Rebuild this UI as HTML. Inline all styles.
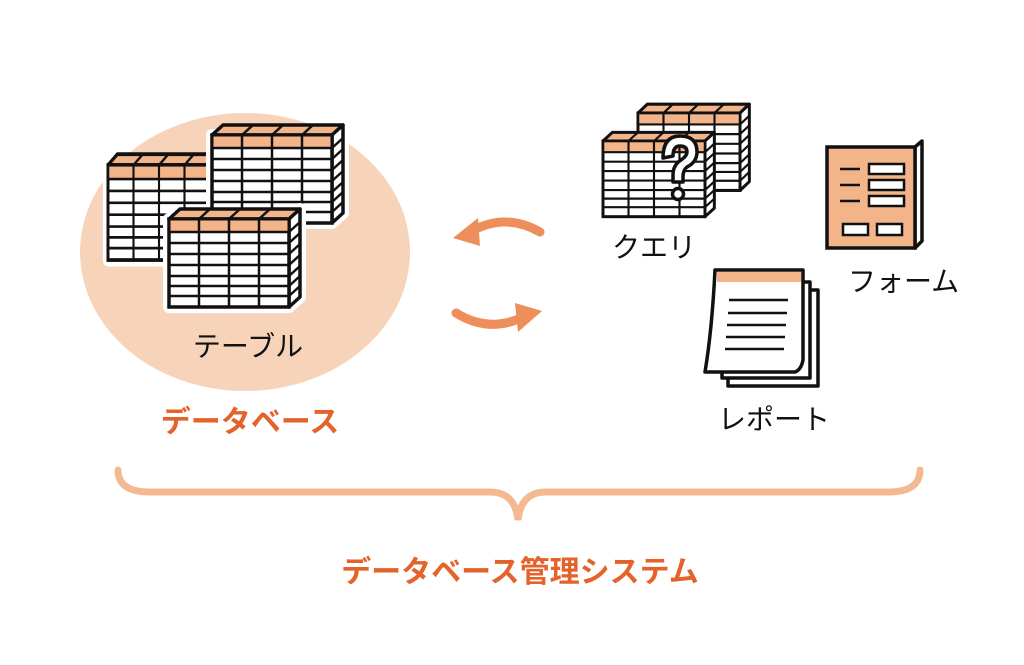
<!DOCTYPE html><html><head><meta charset="utf-8"><style>
body{margin:0;background:#fff}svg{display:block}
text{font-family:"Liberation Sans","Noto Sans CJK JP",sans-serif}
</style></head><body>
<svg width="1024" height="665" viewBox="0 0 1024 665" xmlns="http://www.w3.org/2000/svg">
<defs>
<g id="tbl">
<polygon points="0,0 120,0 131,-10 11,-10" fill="#f3b48a" stroke="#111" stroke-width="3.5" stroke-linejoin="round"/>
<polygon points="120,0 131,-10 131,78 120,88" fill="#fff" stroke="#111" stroke-width="3.5" stroke-linejoin="round"/>
<rect x="0" y="0" width="120" height="88" fill="#fff" stroke="#111" stroke-width="3.5"/>
<rect x="1.5" y="1.5" width="117" height="11" fill="#f3b48a"/>
<g stroke="#111" stroke-width="2.5">
<line x1="0" y1="13" x2="120" y2="13"/>
<line x1="0" y1="24" x2="120" y2="24"/><line x1="0" y1="35" x2="120" y2="35"/>
<line x1="0" y1="46" x2="120" y2="46"/><line x1="0" y1="57" x2="120" y2="57"/>
<line x1="0" y1="67" x2="120" y2="67"/><line x1="0" y1="77" x2="120" y2="77"/>
<line x1="30" y1="0" x2="30" y2="88"/><line x1="60" y1="0" x2="60" y2="88"/><line x1="90" y1="0" x2="90" y2="88"/>
<line x1="41" y1="-10" x2="30" y2="0"/><line x1="71" y1="-10" x2="60" y2="0"/><line x1="101" y1="-10" x2="90" y2="0"/>
<line x1="120" y1="13" x2="131" y2="3"/><line x1="120" y1="24" x2="131" y2="14"/><line x1="120" y1="35" x2="131" y2="25"/>
<line x1="120" y1="46" x2="131" y2="36"/><line x1="120" y1="57" x2="131" y2="47"/><line x1="120" y1="67" x2="131" y2="57"/><line x1="120" y1="77" x2="131" y2="67"/>
</g>
</g>
<g id="tblw">
<polygon points="0,0 120,0 131,-10 131,78 120,88 0,88" fill="#fff" stroke="#fff" stroke-width="12" stroke-linejoin="round"/>
<use href="#tbl"/>
</g>
</defs>
<ellipse cx="245" cy="252" rx="165" ry="139" fill="#f7d4b9"/>
<use href="#tblw" transform="translate(108,165) scale(0.85,1.08)"/>
<use href="#tblw" transform="translate(212,135)"/>
<use href="#tblw" transform="translate(169,219)"/>
<text x="248" y="356" font-size="28" text-anchor="middle" fill="#111">テーブル</text>
<text x="250" y="432" font-size="30" font-weight="bold" text-anchor="middle" fill="#e4632b">データベース</text>
<!-- arrows -->
<path d="M540,232 Q505,212 470,232" fill="none" stroke="#ee8e5a" stroke-width="9" stroke-linecap="round"/>
<polygon points="453,238 478,218 480,246" fill="#ee8e5a"/>
<path d="M456,313 Q490,334 525,316" fill="none" stroke="#ee8e5a" stroke-width="9" stroke-linecap="round"/>
<polygon points="542,311 515,303 518,332" fill="#ee8e5a"/>
<!-- query -->
<use href="#tbl" transform="translate(638,113) scale(0.85,0.88)"/>
<use href="#tbl" transform="translate(603,141) scale(0.85,0.86)"/>
<path d="M663,158 q0,-22 17,-22 q17,0 17,16 q0,10 -10,15 q-4,3 -4,10 v5 h-10 v-7 q0,-10 8,-15 q6,-4 6,-8 q0,-6 -7,-6 q-7,0 -7,10 z" fill="#fff" stroke="#111" stroke-width="3.5" stroke-linejoin="round"/>
<circle cx="678" cy="194" r="5.5" fill="#fff" stroke="#111" stroke-width="3.5"/>
<text x="612" y="257" font-size="28" fill="#111">クエリ</text>
<!-- form -->
<polygon points="915,248 922,241 922,141 915,147" fill="#fff" stroke="#111" stroke-width="3.5" stroke-linejoin="round"/>
<rect x="827" y="147" width="88" height="101" fill="#f3b48a" stroke="#111" stroke-width="3.5"/>
<g stroke="#111" stroke-width="2.5" fill="#fff">
<line x1="840" y1="169" x2="860" y2="169"/><line x1="840" y1="185" x2="860" y2="185"/><line x1="840" y1="201" x2="860" y2="201"/>
<rect x="869" y="164" width="35" height="10"/><rect x="869" y="180" width="35" height="10"/><rect x="869" y="196" width="35" height="10"/>
<rect x="843" y="224" width="25" height="11"/><rect x="877" y="224" width="25" height="11"/>
</g>
<text x="848" y="291" font-size="28" fill="#111">フォーム</text>
<!-- report -->
<g stroke="#111" stroke-width="3.5" stroke-linejoin="round">
<polygon points="728,290 818,290 818,386 728,386" fill="#fff"/>
<polygon points="722,282 810,282 810,378 722,378" fill="#fff"/>
<path d="M715,270 H803 V360 Q801,370 795,372 H705 Q712,330 715,270 Z" fill="#fff"/>
</g>
<rect x="717" y="272" width="84" height="10" fill="#f3b48a"/>
<g stroke="#111" stroke-width="2.5">
<line x1="729" y1="300" x2="788" y2="300"/><line x1="728" y1="313" x2="787" y2="313"/><line x1="727" y1="325" x2="786" y2="325"/><line x1="726" y1="337" x2="785" y2="337"/><line x1="725" y1="349" x2="784" y2="349"/>
</g>
<text x="718" y="429" font-size="28" fill="#111">レポート</text>
<!-- brace -->
<path d="M118,470 Q118,492 150,492 H490 Q515,492 518,520 Q521,492 546,492 H888 Q920,492 920,470" fill="none" stroke="#f4b990" stroke-width="7" stroke-linecap="round"/>
<text x="520" y="582" font-size="30" font-weight="bold" text-anchor="middle" fill="#e4632b">データベース管理システム</text>
</svg>
</body></html>
